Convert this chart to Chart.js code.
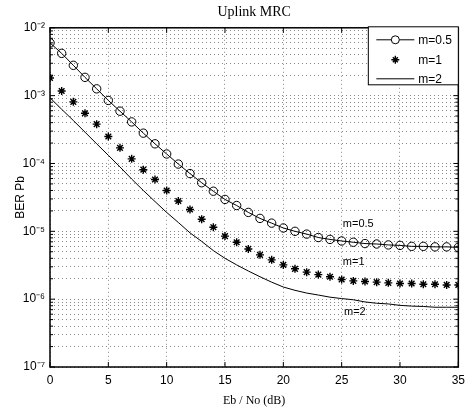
<!DOCTYPE html>
<html>
<head>
<meta charset="utf-8">
<script src="https://cdn.jsdelivr.net/npm/chart.js@4/dist/chart.umd.min.js"></script>
<style>
  html, body { margin: 0; padding: 0; background: #fff; }
  #wrap { width: 471px; height: 408px; }
</style>
</head>
<body>
<div id="wrap"><canvas id="berChart" width="471" height="408"></canvas></div>
<script>
// --- data ---
const ebno = [0,1,2,3,4,5,6,7,8,9,10,11,12,13,14,15,16,17,18,19,20,21,22,23,24,25,26,27,28,29,30,31,32,33,34,35];

const berM05 = [6.0e-3,4.2e-3,2.8e-3,1.86e-3,1.26e-3,8.5e-4,5.9e-4,4.1e-4,2.8e-4,1.95e-4,
  1.38e-4,9.8e-5,7.1e-5,5.2e-5,3.9e-5,2.95e-5,2.4e-5,1.9e-5,1.55e-5,1.32e-5,
  1.12e-5,1.0e-5,9.1e-6,8.1e-6,7.6e-6,7.2e-6,6.9e-6,6.6e-6,6.5e-6,6.3e-6,
  6.2e-6,6.0e-6,6.0e-6,5.9e-6,5.9e-6,5.8e-6];

const berM1 = [1.82e-3,1.17e-3,8.1e-4,5.5e-4,3.8e-4,2.5e-4,1.7e-4,1.17e-4,8.1e-5,5.8e-5,
  4.0e-5,2.8e-5,2.1e-5,1.51e-5,1.15e-5,8.5e-6,6.9e-6,5.5e-6,4.5e-6,3.8e-6,
  3.2e-6,2.8e-6,2.5e-6,2.3e-6,2.14e-6,1.95e-6,1.86e-6,1.82e-6,1.78e-6,1.74e-6,
  1.70e-6,1.70e-6,1.66e-6,1.66e-6,1.62e-6,1.62e-6];

const berM2 = [9.3e-4,6.3e-4,4.3e-4,2.9e-4,1.95e-4,1.32e-4,8.9e-5,5.9e-5,4.0e-5,2.75e-5,
  1.9e-5,1.35e-5,9.5e-6,7.1e-6,5.2e-6,4.0e-6,3.2e-6,2.6e-6,2.14e-6,1.78e-6,
  1.51e-6,1.35e-6,1.23e-6,1.15e-6,1.07e-6,1.02e-6,9.8e-7,9.1e-7,8.7e-7,8.5e-7,
  8.1e-7,7.9e-7,7.8e-7,7.6e-7,7.6e-7,7.6e-7];

const seriesNames = ["m=0.5", "m=1", "m=2"];
const xTicks = [0,5,10,15,20,25,30,35];
const yDecades = [-7,-6,-5,-4,-3,-2];
// where the curve labels sit (x in dB, y in BER)
const curveLabels = [
  {text: "m=0.5", x: 25.1, y: 1.3e-5},
  {text: "m=1",   x: 25.1, y: 3.5e-6},
  {text: "m=2",   x: 25.2, y: 6.5e-7}
];

const sup = {"-":"\u207B","0":"\u2070","1":"\u00B9","2":"\u00B2","3":"\u00B3","4":"\u2074","5":"\u2075","6":"\u2076","7":"\u2077","8":"\u2078","9":"\u2079"};
function powLabel(e){
  return "10" + String(e).split("").map(c=>sup[c]).join("");
}
function toPoints(vals){
  return ebno.map((x,i)=>({x, y: vals[i]}));
}

// white page + box, inward ticks, legend and curve labels
const matlabLook = {
  id: "matlabLook",
  beforeDraw(chart){
    const ctx = chart.ctx;
    ctx.save();
    ctx.fillStyle = "#fff";
    ctx.fillRect(0,0,chart.width,chart.height);
    ctx.restore();
  },
  afterDatasetsDraw(chart){
    const ctx = chart.ctx, a = chart.chartArea;
    const xs = chart.scales.x, ys = chart.scales.y;
    ctx.save();
    ctx.strokeStyle = "#000";
    ctx.lineWidth = 1.5;
    ctx.strokeRect(a.left, a.top, a.right-a.left, a.bottom-a.top);

    // inward ticks
    ctx.lineWidth = 1;
    ctx.beginPath();
    xTicks.forEach(v=>{
      const px = xs.getPixelForValue(v);
      ctx.moveTo(px, a.bottom); ctx.lineTo(px, a.bottom-5);
      ctx.moveTo(px, a.top); ctx.lineTo(px, a.top+5);
    });
    ys.ticks.forEach(t=>{
      const py = ys.getPixelForValue(t.value);
      const major = Math.abs(Math.log10(t.value) - Math.round(Math.log10(t.value))) < 1e-6;
      const len = major ? 5 : 3;
      ctx.moveTo(a.left, py); ctx.lineTo(a.left+len, py);
      ctx.moveTo(a.right, py); ctx.lineTo(a.right-len, py);
    });
    ctx.stroke();

    // curve labels
    ctx.fillStyle = "#000";
    ctx.font = "11px 'Liberation Sans', Arial, sans-serif";
    ctx.textBaseline = "middle";
    ctx.textAlign = "left";
    curveLabels.forEach(l=>{
      ctx.fillText(l.text, xs.getPixelForValue(l.x), ys.getPixelForValue(l.y));
    });

    // legend box in the top right corner
    const bw = 90, bh = 58;
    const bx = a.right - bw, by = a.top - 1;
    ctx.fillStyle = "#fff";
    ctx.fillRect(bx, by, bw, bh);
    ctx.lineWidth = 1;
    ctx.strokeRect(bx, by, bw, bh);
    const rows = [by+13, by+33, by+52];
    const x0 = bx+8, x1 = bx+46, xm = (x0+x1)/2;
    ctx.beginPath();
    ctx.moveTo(x0, rows[0]); ctx.lineTo(x1, rows[0]);
    ctx.moveTo(x0, rows[2]); ctx.lineTo(x1, rows[2]);
    ctx.stroke();
    ctx.beginPath();
    ctx.arc(xm, rows[0], 4, 0, Math.PI*2);
    ctx.fillStyle = "#fff"; ctx.fill(); ctx.stroke();
    ctx.lineWidth = 1.4;
    ctx.beginPath();
    ctx.moveTo(xm-4, rows[1]); ctx.lineTo(xm+4, rows[1]);
    ctx.moveTo(xm, rows[1]-4); ctx.lineTo(xm, rows[1]+4);
    ctx.moveTo(xm-2.5, rows[1]-2.5); ctx.lineTo(xm+2.5, rows[1]+2.5);
    ctx.moveTo(xm-2.5, rows[1]+2.5); ctx.lineTo(xm+2.5, rows[1]-2.5);
    ctx.stroke();
    ctx.fillStyle = "#000";
    ctx.font = "12px 'Liberation Sans', Arial, sans-serif";
    seriesNames.forEach((n,i)=>ctx.fillText(n, x1+4, rows[i]+1));
    ctx.restore();
  }
};

new Chart(document.getElementById("berChart"), {
  type: "line",
  data: {
    datasets: [
      {label: seriesNames[0], data: toPoints(berM05), borderColor: "#000", borderWidth: 1,
       pointStyle: "circle", pointRadius: 4.2, pointBorderWidth: 1, pointBorderColor: "#000",
       pointBackgroundColor: "rgba(255,255,255,0)", tension: 0},
      {label: seriesNames[1], data: toPoints(berM1), showLine: false,
       pointStyle: "star", pointRadius: 4, pointBorderWidth: 1.4, pointBorderColor: "#000",
       pointBackgroundColor: "#000"},
      {label: seriesNames[2], data: toPoints(berM2), borderColor: "#000", borderWidth: 1,
       pointRadius: 0, tension: 0}
    ]
  },
  options: {
    responsive: false,
    animation: false,
    events: [],
    layout: {padding: {top: 0, right: 12, left: 0, bottom: 0}},
    plugins: {
      legend: {display: false},
      tooltip: {enabled: false},
      title: {
        display: true,
        fullSize: false,
        text: "Uplink MRC",
        color: "#000",
        font: {family: "'Liberation Serif', 'Times New Roman', serif", size: 14, weight: "normal"},
        padding: {top: 4, bottom: 7}
      }
    },
    scales: {
      x: {
        type: "linear", min: 0, max: 35,
        afterBuildTicks: s => { s.ticks = xTicks.map(v=>({value: v})); },
        afterFit: s => { s.height = 41; },
        grid: {color: "#888", lineWidth: 1, drawTicks: false},
        border: {display: false, dash: [1,3]},
        ticks: {color: "#000", padding: 6, font: {family: "'Liberation Sans', Arial, sans-serif", size: 12}},
        title: {display: true, text: "Eb / No (dB)", color: "#000", padding: {top: 2, bottom: 0},
          font: {family: "'Liberation Serif', 'Times New Roman', serif", size: 12}}
      },
      y: {
        type: "logarithmic", min: 1e-7, max: 1e-2,
        afterBuildTicks: s => {
          const t = [];
          yDecades.forEach(e=>{
            for (let m=1; m<=9; m++){
              const v = m*Math.pow(10,e);
              if (v <= 1.0001e-2) t.push({value: v});
            }
          });
          s.ticks = t;
        },
        afterFit: s => { s.width = 50; },
        grid: {color: "#888", lineWidth: 1, drawTicks: false},
        border: {display: false, dash: [1,3]},
        ticks: {
          color: "#000", padding: 5, autoSkip: false,
          font: {family: "'Liberation Sans', Arial, sans-serif", size: 12},
          callback: v => {
            const e = Math.log10(v);
            return Math.abs(e-Math.round(e)) < 1e-6 ? powLabel(Math.round(e)) : "";
          }
        },
        title: {display: true, text: "BER Pb", color: "#000", padding: {top: 13, bottom: 0},
          font: {family: "'Liberation Sans', Arial, sans-serif", size: 12}}
      }
    }
  },
  plugins: [matlabLook]
});
</script>
</body>
</html>
